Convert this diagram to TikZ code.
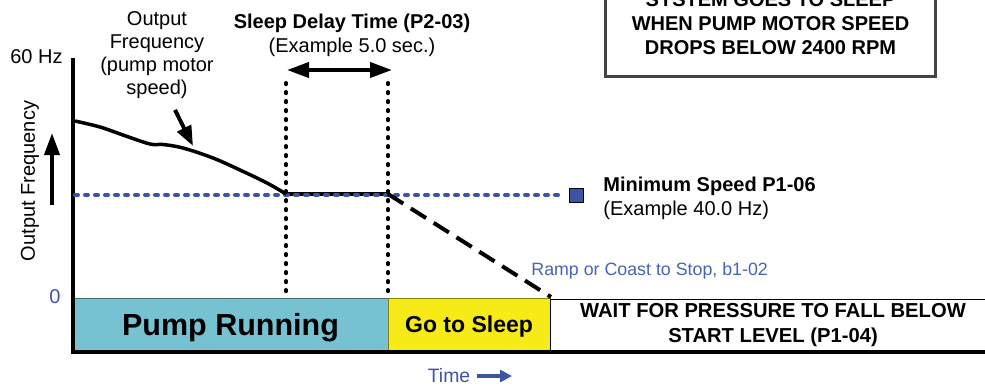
\documentclass[tikz,border=0pt]{standalone}
\usepackage{fontspec}
\setmainfont{Liberation Sans}
\usetikzlibrary{arrows.meta,positioning}

\definecolor{runcyan}{RGB}{118,194,210}
\definecolor{sleepyellow}{RGB}{246,235,22}
\definecolor{minblue}{RGB}{61,84,166}
\definecolor{rampblue}{RGB}{72,98,180}
\definecolor{boxgray}{RGB}{68,68,68}

\begin{document}
\begin{tikzpicture}[
    x=0.5pt, y=-0.5pt,
    lbl/.style={font=\fontsize{10}{12}\selectfont, align=center, inner sep=0pt},
    band/.style={minimum height=26.5pt, inner sep=0pt, line width=0.4pt},
    axis/.style={line width=1.75pt, line join=miter},
    speed/.style={line width=1.75pt},
    bigarrow/.style={line width=2pt, -{Triangle[length=11pt, width=7.5pt]}},
    blackdots/.style={line width=2pt, line cap=round, dash pattern=on 0.6pt off 3.9pt},
    bluedots/.style={minblue, line width=2pt, line cap=round, dash pattern=on 1.5pt off 3.5pt}
]
    \useasboundingbox (0,0) rectangle (985,388);
    \clip (0,0) rectangle (985,388);

    % state bands along the time axis
    \node[band, fill=runcyan, draw=runcyan!55!black, minimum width=157.5pt,
          text height=11pt, text depth=0pt,
          font=\bfseries\fontsize{15.25}{18}\selectfont] (run) at (230.5,324.5) {Pump Running};
    \node[band, fill=sleepyellow, draw=sleepyellow!55!black, minimum width=81pt,
          text height=8.3pt, text depth=0pt,
          font=\bfseries\fontsize{11.5}{13}\selectfont] (gosleep) at (469,324.5) {Go to Sleep};
    \node[band, fill=white, draw=black, minimum width=223pt, align=center,
          font=\bfseries\fontsize{10.1}{12.5}\selectfont] (wait) at (773,325.5)
          {WAIT FOR PRESSURE TO FALL BELOW\\START LEVEL (P1-04)};

    % axes
    \coordinate (ytop) at (73,58);
    \coordinate (origin) at (73,352);
    \coordinate (xend) at (995,352);
    \draw[axis] (ytop) -- (origin) -- (xend);

    \node[lbl, anchor=east] (fmax) at (63,57) {60 Hz};
    \node[lbl, anchor=east, text=minblue] (fzero) at (61,297) {0};
    \node[lbl, rotate=90] (ylabel) at (30,181) {Output Frequency};
    \coordinate (upbot) at (52,205);
    \coordinate (uptop) at (52,133);
    \draw[bigarrow] (upbot) -- (uptop);

    % minimum speed level
    \node[draw=black, fill=minblue, minimum size=7pt, inner sep=0pt, line width=0.5pt] (minsq) at (576,195) {};
    \draw[speed] (286,194) -- (388,194);
    \draw[bluedots] (75,195) -- ([xshift=-4.5pt]minsq.west);
    \node[lbl, anchor=west, align=left] (minlbl) at (603,198)
          {\textbf{Minimum Speed P1-06}\\(Example 40.0 Hz)};

    % output frequency curve and ramp down
    \draw[speed] plot[smooth, tension=0.6] coordinates {(75,121) (100,127) (123,135) (150,144)
          (163,144.5) (183,148) (213,158) (240,170) (267,183) (286,194)};
    \draw[speed, line width=2pt, dash pattern=on 9pt off 4.5pt] (388,194) -- (551,297);
    \node[font=\fontsize{8.9}{10}\selectfont, text=rampblue, anchor=west, inner sep=0pt]
          (ramplbl) at (531,270.5) {Ramp or Coast to Stop, b1-02};

    \node[lbl, font=\fontsize{10}{11.5}\selectfont] (freqlbl) at (157,55)
          {Output\\Frequency\\(pump motor\\speed)};
    \coordinate (curvept) at (193,146);
    \draw[bigarrow, -{Triangle[length=10pt, width=7.5pt]}] ([xshift=9pt,yshift=-5.5pt]freqlbl.south) -- (curvept);

    % sleep delay
    \draw[blackdots] (286,83) -- (286,295);
    \draw[blackdots] (388,83) -- (388,295);
    \node[lbl] (delaylbl) at (352,35) {\textbf{Sleep Delay Time (P2-03)}\\(Example 5.0 sec.)};
    \coordinate (delayL) at (287,70);
    \coordinate (delayR) at (392,70);
    \draw[bigarrow, {Triangle[length=11pt, width=7.5pt]}-{Triangle[length=11pt, width=7.5pt]}] (delayL) -- (delayR);

    % note box
    \node[draw=boxgray, line width=1.5pt, minimum width=165pt, minimum height=53.25pt,
          align=center, font=\bfseries\fontsize{10}{12}\selectfont] (note) at (770.5,23.25)
          {SYSTEM GOES TO SLEEP\\WHEN PUMP MOTOR SPEED\\DROPS BELOW 2400 RPM};

    % time
    \node[lbl, text=minblue, font=\fontsize{9.7}{11}\selectfont] (timelbl) at (449,376) {Time};
    \coordinate (timeend) at (512,376);
    \draw[minblue, line width=2pt, -{Triangle[length=6pt, width=6pt]}] ([xshift=3pt]timelbl.east) -- (timeend);
\end{tikzpicture}
\end{document}
